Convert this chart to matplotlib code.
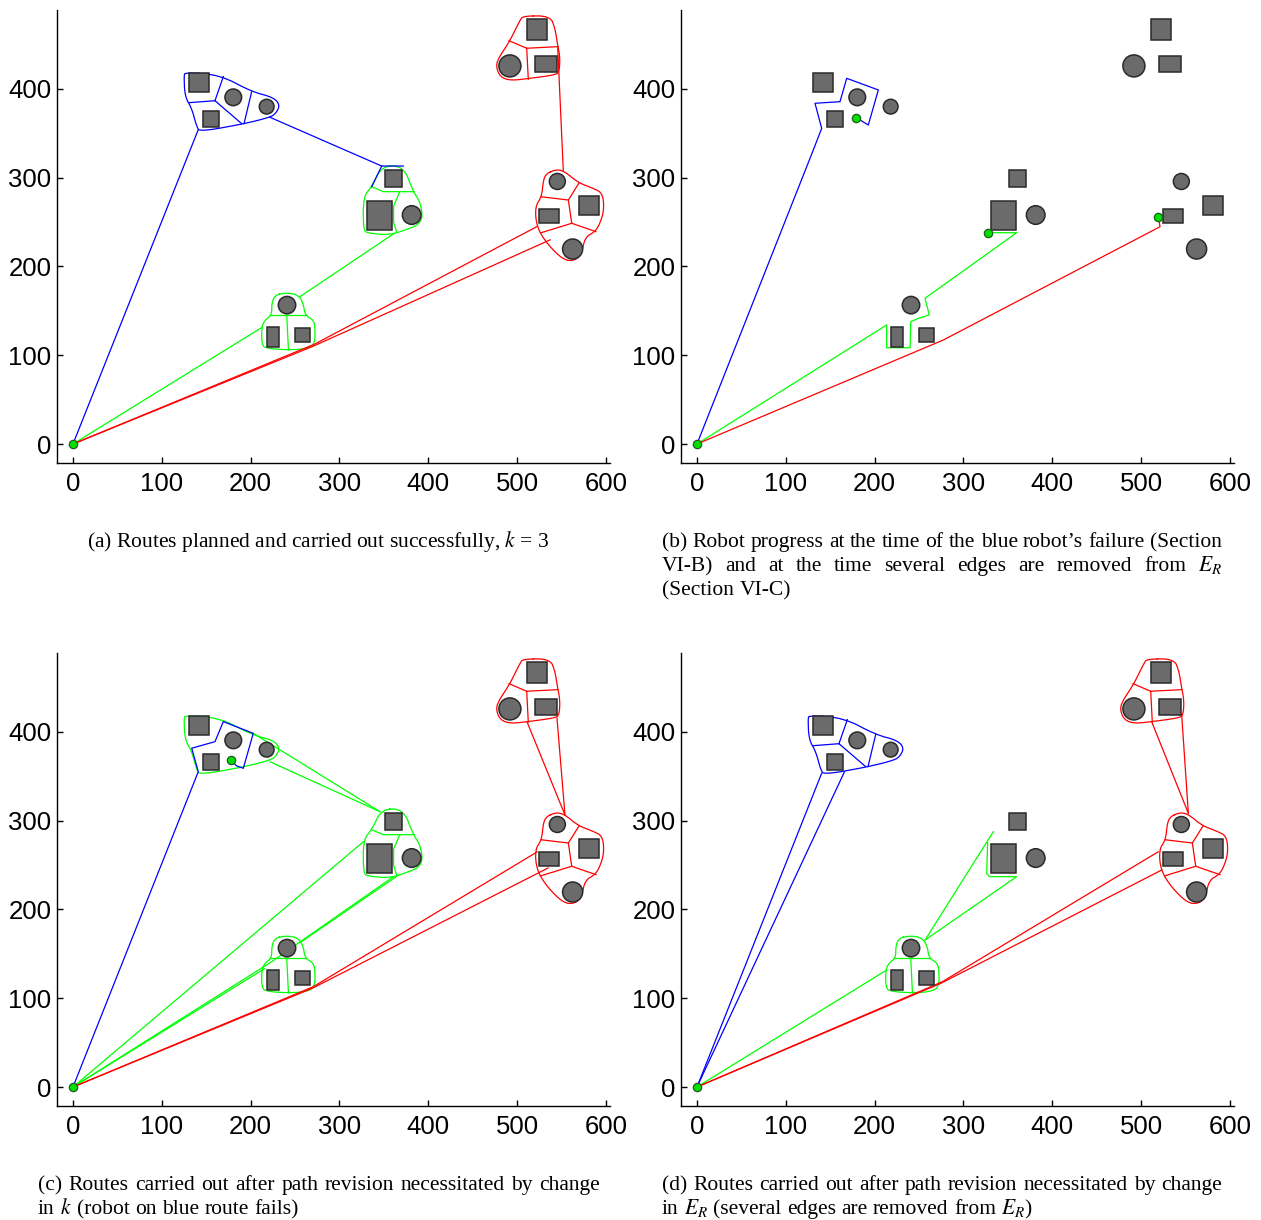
import numpy as np
import matplotlib
matplotlib.use('Agg')
import matplotlib.pyplot as plt
from matplotlib import font_manager
from matplotlib.patches import Rectangle, Circle

W, H, DPI = 1261, 1220, 100

# ---- obstacles (data units) ----
# rectangles: centre x, centre y, width, height
rect_cx = [142.2, 155.4, 360.7, 344.8, 225.2, 258.2, 522.5, 532.4, 536.0, 581.0]
rect_cy = [407.0, 366.4, 299.2, 257.5, 120.5, 122.5, 466.8, 428.4, 257.0, 269.0]
rect_w = [22.5, 18.7, 18.8, 28.0, 13.2, 17.5, 23.6, 24.4, 21.8, 22.5]
rect_h = [21.0, 17.7, 18.8, 32.0, 22.5, 16.0, 23.3, 17.7, 15.8, 21.0]
# circles: centre x, centre y, radius
circ_cx = [180.5, 218.1, 381.4, 241.0, 492.0, 545.4, 562.6]
circ_cy = [390.6, 380.1, 258.0, 156.5, 426.0, 295.8, 219.7]
circ_r = [9.4, 8.3, 10.5, 9.8, 12.4, 9.0, 11.3]

# ---- cluster outlines and cell dividers ----
tl_outline = [(126.1, 418.9), (165.5, 415.8), (201.2, 397.0), (225.6, 390.6), (233.1, 382.0),
              (228.6, 372.6), (221.8, 368.1), (191.8, 360.6), (143.0, 351.9), (139.3, 357.5),
              (133.7, 378.3), (126.1, 391.3), (125.0, 413.9)]
tl_cells = [[(131.0, 384.6), (159.9, 386.8)], [(159.9, 386.8), (169.3, 414.0)],
            [(159.9, 386.8), (189.9, 361.0)], [(201.2, 397.0), (192.6, 361.0)]]

mid_outline = [(347.6, 313.2), (372.0, 313.2), (383.2, 284.3), (390.8, 273.0), (393.8, 256.1),
               (388.9, 246.8), (373.9, 241.1), (357.0, 235.5), (332.5, 237.4), (326.9, 241.1),
               (326.9, 278.6), (336.4, 289.9)]
mid_cells = [[(336.4, 289.9), (349.5, 284.3), (384.0, 284.3)],
             [(368.0, 284.3), (361.0, 268.0), (361.0, 250.0), (364.4, 239.0)]]

low_outline = [(227.5, 167.9), (240.7, 170.5), (253.7, 167.9), (259.3, 158.5), (261.3, 145.4),
               (270.6, 139.7), (272.5, 132.2), (272.5, 113.5), (265.0, 107.8), (244.4, 105.9),
               (216.2, 107.8), (212.5, 113.5), (212.5, 132.2), (216.2, 139.7), (223.8, 145.4),
               (223.8, 158.5)]
low_cells = [[(222.0, 145.4), (262.0, 145.4)], [(240.7, 145.4), (242.6, 106.0)]]

rt_outline = [(533.4, 305.0), (544.7, 309.5), (554.0, 306.8), (569.0, 294.4), (585.9, 288.1),
              (596.5, 282.5), (598.0, 263.7), (593.5, 248.7), (587.8, 239.2), (576.6, 232.9),
              (572.9, 214.9), (565.3, 206.5), (552.1, 207.3), (533.4, 226.1), (522.1, 244.8),
              (520.3, 267.4), (527.8, 278.6), (529.6, 297.5)]
rt_cells = [[(527.0, 278.6), (557.8, 274.9), (570.0, 294.4)],
            [(557.8, 274.9), (561.6, 248.7), (589.0, 239.2)],
            [(527.0, 238.0), (561.6, 248.7)]]

tr_outline = [(507.1, 482.3), (537.2, 482.3), (542.8, 468.4), (545.4, 451.5), (548.4, 436.4),
              (547.6, 419.5), (542.8, 415.8), (514.6, 412.0), (492.1, 409.4), (480.9, 413.9),
              (476.4, 425.2), (479.0, 434.6), (492.1, 454.4), (503.4, 477.7)]
tr_cells = [[(491.0, 454.4), (510.9, 445.9), (546.0, 447.7)], [(510.9, 445.9), (512.7, 411.0)]]

clusters = {'tl': (tl_outline, tl_cells), 'mid': (mid_outline, mid_cells),
            'low': (low_outline, low_cells), 'rt': (rt_outline, rt_cells),
            'tr': (tr_outline, tr_cells)}

# ---- routes per panel ----
a_blue = [[(0, 0), (141.0, 354.0)],
          [(221.8, 368.1), (347.6, 313.2), (372.0, 313.2)],
          [(347.6, 313.2), (336.4, 289.9)]]
a_green = [[(0, 0), (213.0, 131.5)], [(255.6, 166.0), (362.0, 237.5)]]
a_red = [[(0, 0), (272.0, 112.5), (522.1, 244.8)], [(0, 0), (270.0, 110.0), (537.2, 230.0)],
         [(552.1, 308.0), (545.8, 447.7)]]

b_blue = [[(0, 0), (131.0, 331.3), (140.4, 355.7), (132.9, 383.9), (161.0, 385.7), (168.6, 412.0),
           (204.2, 398.9), (192.9, 359.4), (183.6, 365.1), (179.0, 367.0)]]
b_green = [[(0, 0), (213.6, 134.1), (213.6, 108.5), (240.0, 108.5), (240.7, 137.8), (249.2, 141.6),
            (261.6, 145.4), (256.8, 164.2), (360.0, 238.1), (328.0, 238.1)]]
b_red = [[(0, 0), (277.4, 117.2), (521.4, 244.8), (519.5, 256.1)]]

c_blue = [[(0, 0), (141.1, 355.3), (133.7, 381.7), (159.9, 389.1), (169.3, 411.7), (203.0, 398.5),
           (191.8, 359.1), (184.0, 362.0), (177.6, 368.5)]]
c_green = [[(0, 0), (216.2, 133.7)], [(0, 0), (223.8, 141.2), (360.7, 236.9)],
           [(255.6, 162.6), (366.3, 238.6)], [(0, 0), (327.0, 276.4)],
           [(345.7, 310.2), (221.8, 366.5)], [(345.7, 310.2), (203.0, 398.5)]]
c_red = [[(0, 0), (270.6, 113.0), (522.5, 264.8)], [(0, 0), (270.0, 111.5), (535.0, 246.8)],
         [(554.0, 306.5), (511.3, 411.3)], [(554.0, 306.5), (545.0, 415.8)]]

d_blue = [[(0, 0), (140.4, 353.5)], [(0, 0), (166.0, 355.0)]]
d_green = [[(0, 0), (213.6, 131.8)], [(256.8, 165.6), (333.7, 287.7)],
           [(256.8, 165.6), (360.0, 237.0), (329.2, 237.0), (326.2, 240.8), (327.3, 275.3)]]
d_red = [[(0, 0), (276.4, 118.7), (519.5, 265.1)], [(0, 0), (275.0, 117.0), (523.3, 244.5)],
         [(553.3, 308.4), (512.0, 411.6)], [(553.3, 308.4), (545.8, 419.2)]]

robot_dots_a = [(0, 0)]
robot_dots_b = [(0, 0), (179.0, 367.0), (328.0, 238.1), (519.5, 256.1)]
robot_dots_c = [(0, 0), (177.6, 368.5)]
robot_dots_d = [(0, 0)]

xticks = [0, 100, 200, 300, 400, 500, 600]
yticks = [0, 100, 200, 300, 400]

BLUE, GREEN, RED = '#0000ff', '#00ff00', '#ff0000'

# outlines drawn in each panel: (cluster, colour, draw dividers)
panels = [
    dict(pos=(57, 10), outl=[('tl', BLUE, True), ('mid', GREEN, True), ('low', GREEN, True),
                             ('rt', RED, True), ('tr', RED, True)],
         routes=[(GREEN, a_green), (RED, a_red), (BLUE, a_blue)], dots=robot_dots_a),
    dict(pos=(681, 10), outl=[],
         routes=[(GREEN, b_green), (RED, b_red), (BLUE, b_blue)], dots=robot_dots_b),
    dict(pos=(57, 653), outl=[('tl', GREEN, False), ('mid', GREEN, True), ('low', GREEN, True),
                              ('rt', RED, True), ('tr', RED, True)],
         routes=[(GREEN, c_green), (RED, c_red), (BLUE, c_blue)], dots=robot_dots_c),
    dict(pos=(681, 653), outl=[('tl', BLUE, True), ('low', GREEN, True),
                               ('rt', RED, True), ('tr', RED, True)],
         routes=[(GREEN, d_green), (RED, d_red), (BLUE, d_blue)], dots=robot_dots_d),
]

names = {f.name for f in font_manager.fontManager.ttflist}
if 'Liberation Sans Narrow' in names:
    tick_font, tick_size = 'Liberation Sans Narrow', 20.5
else:
    tick_font, tick_size = 'Liberation Sans', 18.5
plt.rcParams['font.family'] = [tick_font, 'DejaVu Sans']
plt.rcParams['mathtext.fontset'] = 'stix'


def chaikin(pts, n=2):
    p = np.asarray(pts, float)
    for _ in range(n):
        q = np.roll(p, -1, axis=0)
        new = np.empty((2 * len(p), 2))
        new[0::2] = 0.75 * p + 0.25 * q
        new[1::2] = 0.25 * p + 0.75 * q
        p = new
    return np.vstack([p, p[:1]])


fig = plt.figure(figsize=(W / DPI, H / DPI), dpi=DPI)
LW = 0.9

for pan in panels:
    left, top = pan['pos']
    ax = fig.add_axes([left / W, 1 - (top + 453) / H, 553 / W, 453 / H])
    ax.set_xlim(-18.0, 604.7)
    ax.set_ylim(-21.4, 489.0)

    for key, col, cells in pan['outl']:
        outline, dividers = clusters[key]
        sm = chaikin(outline)
        ax.plot(sm[:, 0], sm[:, 1], color=col, lw=LW, zorder=2)
        if cells:
            for seg in dividers:
                s = np.asarray(seg)
                ax.plot(s[:, 0], s[:, 1], color=col, lw=LW, zorder=2)

    for col, lines in pan['routes']:
        for seg in lines:
            s = np.asarray(seg)
            ax.plot(s[:, 0], s[:, 1], color=col, lw=LW, zorder=3)

    for cx, cy, w, h in zip(rect_cx, rect_cy, rect_w, rect_h):
        ax.add_patch(Rectangle((cx - w / 2, cy - h / 2), w, h, facecolor='#6b6b6b',
                               edgecolor='#2a2a2a', lw=1.1, zorder=4))
    for cx, cy, r in zip(circ_cx, circ_cy, circ_r):
        ax.add_patch(Circle((cx, cy), r, facecolor='#6b6b6b', edgecolor='#2a2a2a',
                            lw=1.1, zorder=4))

    d = np.asarray(pan['dots'])
    ax.plot(d[:, 0], d[:, 1], 'o', ms=6, mfc='#00e000', mec='#1d5e1d', mew=0.9, zorder=5)

    ax.set_xticks(xticks)
    ax.set_yticks(yticks)
    ax.spines['top'].set_visible(False)
    ax.spines['right'].set_visible(False)
    for s in ('left', 'bottom'):
        ax.spines[s].set_linewidth(1.0)
    ax.tick_params(direction='in', length=4.5, width=1.0, labelsize=tick_size)
    ax.tick_params(axis='x', pad=6.5)
    ax.tick_params(axis='y', pad=4)

# ---- captions ----
CAP = dict(family='Liberation Serif', fontsize=15.5, color='black')
renderer = fig.canvas.get_renderer()


def caption_line(text, x0, x1, y, justify=True):
    words = text.split(' ')
    objs = [fig.text(0, 1 - y / H, w_, va='baseline', ha='left', **CAP) for w_ in words]
    widths = [o.get_window_extent(renderer).width for o in objs]
    if justify and len(words) > 1:
        gap = (x1 - x0 - sum(widths)) / (len(words) - 1)
    else:
        gap = CAP['fontsize'] * DPI / 72 * 0.25
    x = x0
    for o, wd in zip(objs, widths):
        o.set_x(x / W)
        x += wd + gap


fig.text(318 / W, 1 - 547 / H, '(a) Routes planned and carried out successfully, $k$ = 3',
         ha='center', va='baseline', **CAP)

caption_line('(b) Robot progress at the time of the blue robot\u2019s failure (Section', 662, 1222, 547)
caption_line('VI-B) and at the time several edges are removed from $E_R$', 662, 1222, 571)
caption_line('(Section VI-C)', 662, 1222, 595, justify=False)

caption_line('(c) Routes carried out after path revision necessitated by change', 38, 600, 1190)
caption_line('in $k$ (robot on blue route fails)', 38, 600, 1214, justify=False)

caption_line('(d) Routes carried out after path revision necessitated by change', 662, 1222, 1190)
caption_line('in $E_R$ (several edges are removed from $E_R$)', 662, 1222, 1214, justify=False)

fig.savefig('out.png', dpi=DPI)
